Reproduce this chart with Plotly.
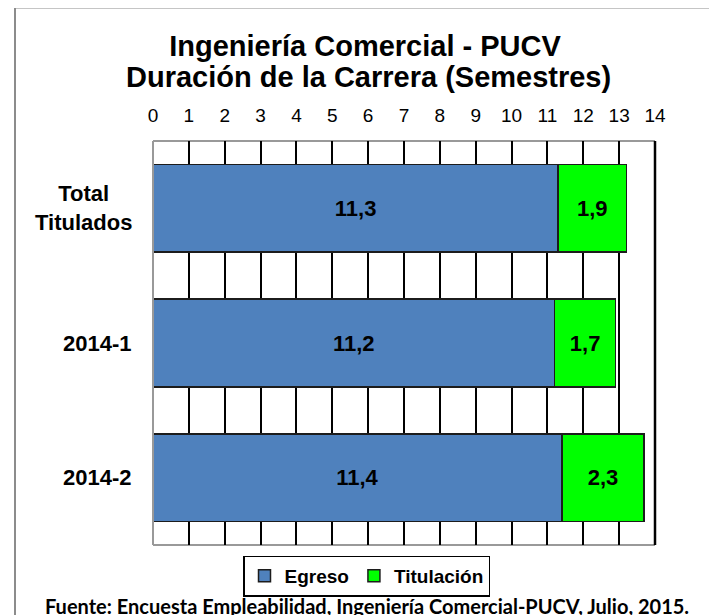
import plotly.graph_objects as go

categorias = ["Total Titulados", "2014-1", "2014-2"]
etiquetas_cat = ["Total<br>Titulados", "2014-1", "2014-2"]
egreso = [11.3, 11.2, 11.4]
titulacion = [1.9, 1.7, 2.3]
ticks_x = list(range(0, 15))

# la página pone 8 px de margen al body: todo se desplaza 8 px
OFF = 8
W, H = 717 - OFF, 615 - OFF
L, R, T, B = 153, 655, 141, 545  # área de trazado en px de la referencia


def px_x(p):
    return (p - L) / (R - L)


def px_y(p):
    return (B - p) / (B - T)


def etiqueta(v):
    return "<b>" + f"{v:.1f}".replace(".", ",") + "</b>"


arial = "Liberation Sans, Arial"
fuente_barra = dict(family=arial, size=22, color="black")

fig = go.Figure()
fig.add_trace(go.Bar(
    y=categorias, x=egreso, orientation="h", name="<b>Egreso</b>",
    marker=dict(color="#4f81bd", line=dict(color="#1c1c1c", width=1.5)),
    text=[etiqueta(v) for v in egreso], textposition="inside",
    insidetextanchor="middle", textfont=fuente_barra,
))
fig.add_trace(go.Bar(
    y=categorias, x=titulacion, orientation="h", name="<b>Titulación</b>",
    marker=dict(color="#00ff00", line=dict(color="#1c1c1c", width=1.5)),
    text=[etiqueta(v) for v in titulacion], textposition="inside",
    insidetextanchor="middle", textfont=fuente_barra,
))

# etiquetas de categoría (centradas, bloque alineado a la derecha)
anots = []
for c, t in zip(categorias, etiquetas_cat):
    anots.append(dict(
        x=px_x(134), xref="paper", y=c, yref="y", text="<b>" + t + "</b>",
        xanchor="right", yanchor="middle", align="center", showarrow=False,
        font=dict(family=arial, size=22, color="black"),
    ))
# segunda línea del título
anots.append(dict(
    x=px_x(368), xref="paper", y=px_y(77), yref="paper",
    text="<b>Duración de la Carrera (Semestres)</b>",
    showarrow=False, xanchor="center", yanchor="middle",
    font=dict(family=arial, size=29, color="black"),
))
anots.append(dict(
    x=px_x(367), xref="paper", y=px_y(606), yref="paper",
    text="<b>Fuente: Encuesta Empleabilidad, Ingeniería Comercial-PUCV, Julio, 2015.</b>",
    showarrow=False, xanchor="center", yanchor="middle",
    font=dict(family="Lato", size=20, color="black"),
))

fig.update_layout(
    width=W, height=H,
    margin=dict(l=L - OFF, r=W - (R - OFF), t=T - OFF, b=H - (B - OFF),
                autoexpand=False),
    paper_bgcolor="white", plot_bgcolor="white",
    barmode="stack", bargap=0.35,
    title=dict(
        text="<b>Ingeniería Comercial - PUCV</b>",
        x=(365 - OFF) / W, xref="container", xanchor="center",
        y=1 - (46 - OFF) / H, yref="container", yanchor="middle",
        font=dict(family=arial, size=29, color="black"),
    ),
    xaxis=dict(
        range=[0, 14], side="top", tickvals=ticks_x, automargin=False,
        showgrid=True, gridcolor="black", gridwidth=2,
        showline=False, zeroline=False, ticks="",
        ticklabelstandoff=14,
        tickfont=dict(family=arial, size=19, color="black"),
    ),
    yaxis=dict(
        type="category", categoryorder="array", categoryarray=categorias,
        autorange="reversed", showticklabels=False, showgrid=False,
        showline=False, zeroline=False, ticks="", automargin=False,
    ),
    legend=dict(
        orientation="h", x=px_x(366.5), xanchor="center",
        y=px_y(576), yanchor="middle",
        bordercolor="black", borderwidth=1.5,
        font=dict(family=arial, size=19, color="black", weight="bold"),
        itemwidth=30, traceorder="normal",
    ),
    annotations=anots,
    showlegend=True,
    shapes=[
        # borde del área de trazado
        dict(type="line", xref="paper", yref="paper", x0=0, x1=0, y0=0, y1=1,
             line=dict(color="#999999", width=2), layer="above"),
        dict(type="line", xref="paper", yref="paper", x0=0, x1=1, y0=1, y1=1,
             line=dict(color="#999999", width=2), layer="below"),
        dict(type="line", xref="paper", yref="paper", x0=0, x1=1, y0=0, y1=0,
             line=dict(color="#999999", width=2), layer="below"),
        dict(type="line", xref="paper", yref="paper", x0=1, x1=1, y0=0, y1=1,
             line=dict(color="black", width=2.5), layer="below"),
        # marco exterior del gráfico
        dict(type="rect", xref="paper", yref="paper",
             x0=px_x(15), x1=px_x(713), y0=px_y(625), y1=px_y(7.5),
             line=dict(color="#8c8c8c", width=2), layer="below"),
    ],
)

fig.write_html("out.html")
